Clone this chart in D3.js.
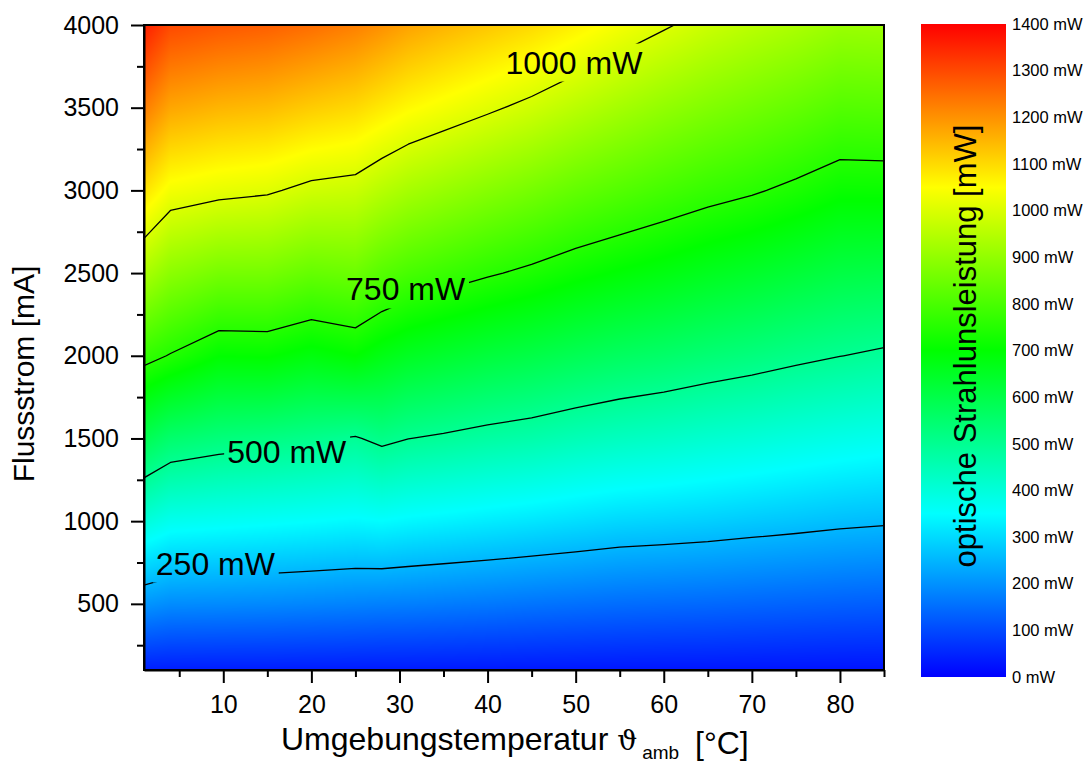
<!DOCTYPE html>
<html>
<head>
<meta charset="utf-8">
<script src="https://cdn.jsdelivr.net/npm/d3@7"></script>
<style>
  html, body { margin: 0; padding: 0; background: #fff; }
  svg { display: block; font-family: "Liberation Sans", Arial, Helvetica, sans-serif; }
</style>
</head>
<body>
<svg id="chart" width="1089" height="762"></svg>
<script>
// Ambient temperature of each measurement column [°C]
const temperatures = [1, 4, 9.5, 15, 20, 25, 28, 31, 35, 40, 45, 50, 55, 60, 65, 70, 75, 80, 85];
// Forward current of each measurement row [mA]
const currents = [100, 500, 1000, 1500, 2000, 2500, 3000, 3500, 4000];
// Optical output power [mW]: one row per current, one column per temperature
const power = [
  [  41,   39,   38,   38,   37,   36,   35,   35,   34,   33,   32,   31,   30,   29,   29,   28,   27,   26,   26],
  [ 206,  193,  191,  188,  184,  180,  177,  175,  171,  166,  160,  155,  150,  147,  144,  140,  136,  132,  129],
  [ 401,  373,  365,  358,  351,  343,  349,  341,  334,  325,  316,  306,  296,  291,  285,  277,  270,  262,  257],
  [ 590,  552,  532,  522,  509,  495,  516,  501,  491,  477,  466,  450,  437,  427,  415,  405,  393,  382,  373],
  [ 772,  746,  701,  704,  682,  700,  673,  653,  637,  618,  603,  585,  569,  557,  542,  529,  514,  501,  489],
  [ 935,  891,  862,  861,  838,  848,  817,  797,  779,  757,  737,  714,  695,  678,  659,  643,  625,  607,  601],
  [1090, 1035, 1018, 1008,  984,  976,  950,  928,  908,  884,  861,  835,  814,  793,  773,  757,  736,  712,  713],
  [1230, 1172, 1152, 1142, 1120, 1102, 1079, 1057, 1036, 1010,  984,  954,  926,  900,  877,  857,  837,  814,  817],
  [1360, 1300, 1282, 1270, 1250, 1225, 1202, 1177, 1154, 1128, 1102, 1070, 1037, 1007,  978,  955,  935,  912,  915]
];
// Iso-power lines and where their labels sit (temperature, current)
const contourLevels = [250, 500, 750, 1000];
const labelTemps = [9.1, 17.2, 30.7, 49.8];
const labelCurrents = [747, 1421, 2404, 3776];
// Axis ticks
const xMajor = [10, 20, 30, 40, 50, 60, 70, 80];
const xMinor = [5, 15, 25, 35, 45, 55, 65, 75, 85];
const yMajor = [500, 1000, 1500, 2000, 2500, 3000, 3500, 4000];
const yMinor = [250, 750, 1250, 1750, 2250, 2750, 3250, 3750];
const colorbarTicks = d3.range(0, 1401, 100);
// Rainbow palette stops [mW]
const paletteStops = [0, 350, 700, 1050, 1400];
const paletteColors = ["#0000ff", "#00ffff", "#00ff00", "#ffff00", "#ff0000"];

const FONT = "'Liberation Sans', Arial, Helvetica, sans-serif";
const svg = d3.select("#chart");
const plot = { left: 144, right: 884, top: 25, bottom: 670 };
const x = d3.scaleLinear().domain([1, 85]).range([plot.left, plot.right]);
const y = d3.scaleLinear().domain([100, 4000]).range([plot.bottom, plot.top]);
const color = d3.scaleLinear().domain(paletteStops).range(paletteColors).clamp(true);

// ---- heat map: bilinear interpolation of the measurement grid ----
function locate(arr, v) {
  let i = d3.bisectRight(arr, v) - 1;
  i = Math.max(0, Math.min(arr.length - 2, i));
  let t = (v - arr[i]) / (arr[i + 1] - arr[i]);
  t = Math.max(0, Math.min(1, t));
  return [i, t];
}
const pw = plot.right - plot.left, ph = plot.bottom - plot.top;
const canvas = document.createElement("canvas");
canvas.width = pw; canvas.height = ph;
const ctx = canvas.getContext("2d");
const img = ctx.createImageData(pw, ph);
const lut = d3.range(0, 1401).map(v => d3.rgb(color(v)));
const cols = d3.range(pw).map(px => locate(temperatures, x.invert(plot.left + px + 0.5)));
const rows = d3.range(ph).map(py => locate(currents, y.invert(plot.top + py + 0.5)));
for (let py = 0; py < ph; py++) {
  const [j, v] = rows[py];
  const r0 = power[j], r1 = power[j + 1];
  for (let px = 0; px < pw; px++) {
    const [i, u] = cols[px];
    const val = (1 - v) * ((1 - u) * r0[i] + u * r0[i + 1]) + v * ((1 - u) * r1[i] + u * r1[i + 1]);
    const c = lut[Math.max(0, Math.min(1400, Math.round(val)))];
    const k = (py * pw + px) * 4;
    img.data[k] = c.r; img.data[k + 1] = c.g; img.data[k + 2] = c.b; img.data[k + 3] = 255;
  }
}
ctx.putImageData(img, 0, 0);
svg.append("image")
  .attr("x", plot.left).attr("y", plot.top)
  .attr("width", pw).attr("height", ph)
  .attr("preserveAspectRatio", "none")
  .attr("href", canvas.toDataURL());

// ---- contour lines from d3.contours on the measurement grid ----
const nx = temperatures.length, ny = currents.length;
function gridValue(arr, c) {
  let f = Math.max(0, Math.min(arr.length - 1, c - 0.5));
  const i = Math.min(arr.length - 2, Math.floor(f));
  return arr[i] + (f - i) * (arr[i + 1] - arr[i]);
}
const onFrame = p => p[0] <= 0 || p[0] >= nx || p[1] <= 0 || p[1] >= ny;
function ringToLines(ring) {
  const n = ring.length - 1;
  const start = ring.slice(0, n).findIndex(onFrame);
  const pts = start < 0 ? ring.slice() : ring.slice(start, n).concat(ring.slice(0, start + 1));
  const out = []; let cur = [];
  for (const p of pts) {
    if (onFrame(p)) { if (cur.length > 1) out.push(cur); cur = []; }
    else cur.push(p);
  }
  if (cur.length > 1) out.push(cur);
  return out;
}
const contours = d3.contours().size([nx, ny]).thresholds(contourLevels)(power.flat());
const line = d3.line()
  .x(p => x(gridValue(temperatures, p[0])))
  .y(p => y(gridValue(currents, p[1])));

const defs = svg.append("defs");
defs.append("clipPath").attr("id", "plotClip")
  .append("rect").attr("x", plot.left).attr("y", plot.top).attr("width", pw).attr("height", ph);
const mask = defs.append("mask").attr("id", "labelMask")
  .attr("maskUnits", "userSpaceOnUse").attr("x", 0).attr("y", 0).attr("width", 1089).attr("height", 762);
mask.append("rect").attr("x", 0).attr("y", 0).attr("width", 1089).attr("height", 762).attr("fill", "#fff");

const lineGroup = svg.append("g").attr("clip-path", "url(#plotClip)")
  .append("g").attr("mask", "url(#labelMask)");
contours.forEach(c => {
  c.coordinates.forEach(poly => poly.forEach(ring => {
    ringToLines(ring).forEach(seg => {
      lineGroup.append("path").attr("d", line(seg))
        .attr("fill", "none").attr("stroke", "#000").attr("stroke-width", 1.3)
        .attr("stroke-linejoin", "round");
    });
  }));
});

const labels = svg.append("g").selectAll("text").data(contourLevels).join("text")
  .attr("x", (d, i) => x(labelTemps[i]))
  .attr("y", (d, i) => y(labelCurrents[i]))
  .attr("dy", "0.36em")
  .attr("text-anchor", "middle")
  .attr("font-size", 32)
  .attr("fill", "#000")
  .text(d => d + " mW");
labels.each(function () {
  const b = this.getBBox();
  mask.append("rect").attr("x", b.x - 3).attr("y", b.y - 1)
    .attr("width", b.width + 6).attr("height", b.height + 2).attr("fill", "#000");
});

// ---- axes ----
function styleAxis(g) {
  g.attr("font-family", FONT).attr("font-size", 25);
  g.selectAll("path, line").attr("stroke", "#000").attr("stroke-width", 2);
  g.selectAll("text").attr("fill", "#000");
}
svg.append("g").attr("transform", `translate(${plot.left},0)`)
  .call(d3.axisLeft(y).tickValues(yMinor).tickSize(7).tickFormat("").tickSizeOuter(0))
  .call(g => g.select(".domain").remove()).call(styleAxis);
svg.append("g").attr("transform", `translate(${plot.left},0)`)
  .call(d3.axisLeft(y).tickValues(yMajor).tickSize(13).tickPadding(12).tickSizeOuter(0).tickFormat(d3.format("d")))
  .call(styleAxis);
svg.append("g").attr("transform", `translate(0,${plot.bottom})`)
  .call(d3.axisBottom(x).tickValues(xMinor).tickSize(7).tickFormat("").tickSizeOuter(0))
  .call(g => g.select(".domain").remove()).call(styleAxis);
svg.append("g").attr("transform", `translate(0,${plot.bottom})`)
  .call(d3.axisBottom(x).tickValues(xMajor).tickSize(13).tickPadding(12).tickSizeOuter(0))
  .call(styleAxis);
svg.append("rect").attr("x", plot.left).attr("y", plot.top).attr("width", pw).attr("height", ph)
  .attr("fill", "none").attr("stroke", "#000").attr("stroke-width", 2);

// axis titles
svg.append("text")
  .attr("transform", `translate(34,${374}) rotate(-90)`)
  .attr("text-anchor", "middle").attr("font-size", 30).attr("fill", "#000")
  .text("Flussstrom [mA]");
const xt = svg.append("text").attr("x", 281).attr("y", 750).attr("font-size", 32).attr("fill", "#000");
xt.append("tspan").text("Umgebungstemperatur ");
xt.append("tspan").attr("font-family", "'DejaVu Serif', 'Liberation Serif', serif").attr("font-size", 28).text("ϑ");
xt.append("tspan").attr("font-size", 19).attr("dx", 5).attr("dy", 9).text("amb");
xt.append("tspan").attr("x", 695).attr("dy", -5).text("[°C]");

// ---- colour bar ----
const cb = { left: 921, right: 1006, top: 24, bottom: 677 };
const cbScale = d3.scaleLinear().domain([0, 1400]).range([cb.bottom, cb.top]);
const grad = defs.append("linearGradient").attr("id", "cbGrad")
  .attr("x1", 0).attr("y1", 1).attr("x2", 0).attr("y2", 0);
grad.selectAll("stop").data(paletteStops).join("stop")
  .attr("offset", d => d / 1400)
  .attr("stop-color", d => color(d));
svg.append("rect").attr("x", cb.left).attr("y", cb.top)
  .attr("width", cb.right - cb.left).attr("height", cb.bottom - cb.top)
  .attr("fill", "url(#cbGrad)");
svg.append("g").selectAll("text").data(colorbarTicks).join("text")
  .attr("x", 1012).attr("y", d => cbScale(d)).attr("dy", "0.35em")
  .attr("font-size", 16.5).attr("fill", "#000")
  .text(d => d + " mW");
svg.append("text")
  .attr("transform", `translate(976,346) rotate(-90)`)
  .attr("text-anchor", "middle").attr("font-size", 31).attr("fill", "#000")
  .text("optische Strahlunsleistung [mW]");
</script>
</body>
</html>
